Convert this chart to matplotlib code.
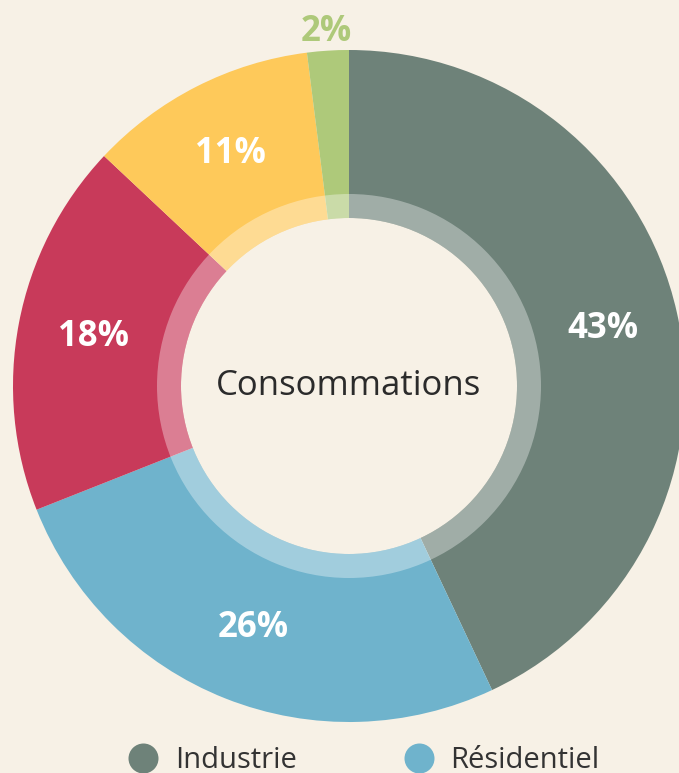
import matplotlib
matplotlib.use("Agg")
import matplotlib.pyplot as plt
from matplotlib.lines import Line2D
from matplotlib.patches import Wedge, Circle
import numpy as np

categories = ["Industrie", "Résidentiel", "Tertiaire", "Transport", "Agriculture"]
values = [43, 26, 18, 11, 2]
colors = ["#6e8279", "#6fb3cc", "#c83a5a", "#fec95a", "#aec97a"]
legend_labels = ["Industrie", "Résidentiel"]
center_label = "Consommations"

BG = "#f7f1e6"
FONT = ["Open Sans", "DejaVu Sans"]

fig = plt.figure(figsize=(6.79, 7.73), dpi=100, facecolor=BG)
ax = fig.add_axes([0, 0, 1, 1])
ax.set_facecolor(BG)

cx, cy, R = 349, 386, 336
# y axis is inverted (pixel-like), so startangle=-90 / counterclock=True
# appears as starting at the top and going clockwise on screen.
wedges, texts, autotexts = ax.pie(
    values, colors=colors, startangle=-90, counterclock=True,
    center=(cx, cy), radius=R, autopct="%d%%", pctdistance=0.775,
    wedgeprops=dict(linewidth=0), frame=True,
    textprops=dict(color="white", fontsize=25, fontweight="bold", family=FONT),
)
ax.set_xlim(0, 679)
ax.set_ylim(773, 0)
ax.set_aspect("equal")
ax.axis("off")

# small slice: label outside, in the slice colour
for w, t, v, c in zip(wedges, autotexts, values, colors):
    if v < 5:
        mid = np.deg2rad((w.theta1 + w.theta2) / 2)
        r = 1.055 * R
        t.set_position((cx + r * np.cos(mid), cy + r * np.sin(mid)))
        t.set_color(c)

ax.add_patch(Wedge((cx, cy), 192, 0, 360, width=24, facecolor="white", alpha=0.35, linewidth=0))
ax.add_patch(Circle((cx, cy), 168, facecolor=BG, linewidth=0))
ax.text(cx, cy, center_label, fontsize=25, color="#2b2b2b", family=FONT, ha="center", va="center")

handles = [Line2D([], [], marker="o", linestyle="none", markersize=21.6, markerfacecolor=colors[i],
                  markeredgewidth=0) for i in range(2)]
leg = ax.legend(handles, legend_labels, loc="center", bbox_to_anchor=(0.534, 0.016), ncol=2,
                frameon=False, prop=dict(family=FONT, size=21), columnspacing=3.57,
                handlelength=1.2, handletextpad=0.5, labelcolor="#333333")

fig.savefig("out.png", dpi=100, facecolor=BG)
